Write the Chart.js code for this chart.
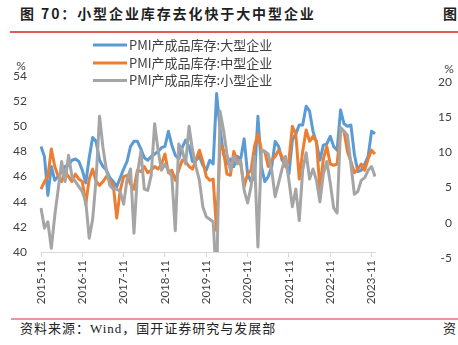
<!DOCTYPE html>
<html>
<head>
<meta charset="utf-8">
<script src="https://cdn.jsdelivr.net/npm/chart.js@4.4.0/dist/chart.umd.min.js"></script>
<style>
  body { margin:0; width:458px; height:345px; background:#fff; position:relative; overflow:hidden; font-family:"Noto Sans CJK SC", sans-serif; }
  .head { position:absolute; top:3px; line-height:20px; font-size:14px; font-weight:bold; letter-spacing:1.9px; color:#1f1f1f; white-space:nowrap; }
  .rule { position:absolute; left:10px; right:0; }
  .foot { position:absolute; top:320px; line-height:18px; font-size:13px; letter-spacing:1px; color:#222; white-space:nowrap; font-family:"Liberation Serif","Noto Sans CJK SC",serif; }
  #box { position:absolute; left:0; top:0; width:458px; height:310px; }
</style>
</head>
<body>
<div class="head" style="left:20px">图 70：小型企业库存去化快于大中型企业</div>
<div class="head" style="left:443px">图</div>
<div class="rule" style="top:31px;height:1.5px;background:#e05a5a"></div>
<div id="box"><canvas id="chart"></canvas></div>
<div class="rule" style="top:318px;height:2px;background:#e49a9a;left:11px"></div>
<div class="foot" style="left:20px">资料来源：Wind，国开证券研究与发展部</div>
<div class="foot" style="left:443px">资</div>
<script>
// monthly, 2015-11 .. 2023-12
var months = []
for (var y = 2015, m = 11; months.length < 98; ) {
    months.push(y + '-' + (m < 10 ? '0' + m : m))
    m++
    if (m > 12) { m = 1; y++ }
}

var seriesNames = ['PMI产成品库存:大型企业', 'PMI产成品库存:中型企业', 'PMI产成品库存:小型企业']

var large = [48.4, 47.6, 44.5, 46.8, 45.7, 46.0, 46.4, 46.8, 46.9, 47.3, 47.4, 47.2,
    46.5, 45.5, 47.5, 49.1, 48.8, 47.3, 46.8, 46.5, 45.9, 45.6, 45.2, 45.9,
    46.6, 47.2, 48.4, 48.8, 48.8, 48.2, 47.5, 47.3, 47.6, 47.8, 48.0, 48.3,
    48.4, 49.6, 48.5, 47.7, 47.4, 48.3, 48.9, 48.4, 47.2, 47.3, 47.6, 46.9,
    46.5, 47.3, 47.0, 52.6, 49.8, 47.8, 47.0, 47.4, 46.8, 47.6, 47.4, 49.0,
    46.2, 45.6, 45.9, 50.8, 46.8, 45.6, 46.0, 46.8, 48.8, 48.4, 47.3, 47.0,
    46.2, 48.9, 49.4, 50.1, 50.1, 51.6, 51.2, 49.6, 48.7, 47.3, 48.5, 48.6,
    49.2, 48.4, 48.1, 51.3, 50.2, 50.0, 50.1, 47.8, 46.4, 46.5, 47.0, 47.6,
    49.6, 49.4]

var medium = [45.0, 45.6, 46.0, 48.2, 46.8, 46.0, 45.6, 46.4, 46.0, 45.6, 46.2, 45.8,
    45.6, 43.8, 45.8, 46.6, 45.6, 45.3, 45.6, 46.0, 45.7, 45.3, 42.7, 44.9,
    46.0, 46.1, 45.4, 45.0, 46.5, 46.4, 46.8, 46.3, 46.5, 46.8, 46.6, 47.0,
    47.8, 46.3, 46.5, 45.7, 46.5, 47.3, 47.2, 46.8, 46.6, 47.3, 48.1, 47.2,
    46.0, 45.7, 45.8, 41.7, 48.6, 48.1, 46.2, 46.1, 48.0, 47.3, 47.0, 45.2,
    46.2, 46.5, 48.4, 49.4, 48.1, 48.0, 46.8, 47.3, 47.6, 48.1, 47.6, 46.8,
    47.3, 50.0, 49.4, 45.8, 48.0, 49.7, 48.8, 49.2, 48.8, 45.0, 47.4, 48.4,
    47.0, 46.9, 47.0, 49.7, 49.6, 48.0, 47.2, 46.3, 46.6, 47.0, 46.5, 47.4,
    48.1, 47.8]

var small = [43.5, 41.9, 42.4, 40.3, 42.9, 45.0, 47.2, 45.6, 47.7, 46.0, 45.6, 45.2,
    44.8, 44.0, 41.1, 42.6, 45.8, 50.8, 48.3, 46.5, 45.3, 45.0, 45.0, 44.8,
    43.8, 45.8, 46.6, 41.5, 46.2, 48.0, 45.0, 44.9, 46.1, 50.2, 48.1, 46.5,
    47.0, 46.5, 46.0, 41.7, 48.6, 48.1, 47.0, 50.0, 48.1, 46.8, 45.7, 43.6,
    42.8, 42.6, 42.4, 37.5, 51.2, 49.7, 47.8, 46.5, 47.6, 47.0, 47.3, 44.9,
    43.9, 45.2, 47.6, 40.4, 48.1, 48.0, 47.8, 46.5, 44.4, 45.5, 46.6, 47.6,
    45.7, 43.6, 45.0, 42.5, 46.5, 47.9, 45.8, 46.6, 45.7, 44.0, 46.2, 47.2,
    45.5, 43.5, 43.1, 49.9, 49.6, 49.3, 47.0, 44.6, 44.8, 45.7, 45.9, 46.5,
    46.8, 46.0]

var leftTicks = { min: 40, max: 54, step: 2 }
var rightTicks = { min: -5, max: 20, step: 5 }

var textColor = '#404040'

// legend rows and the two "%" unit marks
var extras = {
    id: 'extras',
    afterDraw: function (chart) {
        var ctx = chart.ctx
        var rows = [45, 63, 80.5]
        ctx.save()
        ctx.textBaseline = 'middle'
        ctx.font = '13px "Noto Sans CJK SC"'
        chart.data.datasets.forEach(function (ds, i) {
            ctx.strokeStyle = ds.borderColor
            ctx.lineWidth = 3
            ctx.beginPath()
            ctx.moveTo(93, rows[i])
            ctx.lineTo(127, rows[i])
            ctx.stroke()
            ctx.fillStyle = textColor
            ctx.fillText(ds.label, 129, rows[i])
        })
        ctx.font = '12px Lato'
        ctx.textAlign = 'center'
        ctx.fillText('%', 21, 66)
        ctx.fillText('%', 449, 69)
        ctx.restore()
    }
}

var ctx = document.getElementById('chart').getContext('2d')
var chart = new Chart(ctx, {
    type: 'line',
    data: {
        labels: months,
        datasets: [
            { label: seriesNames[0], data: large, borderColor: '#5b9bd5', order: 3 },
            { label: seriesNames[1], data: medium, borderColor: '#ed7d31', order: 2 },
            { label: seriesNames[2], data: small, borderColor: '#a5a5a5', order: 1 }
        ]
    },
    options: {
        responsive: true,
        maintainAspectRatio: false,
        animation: false,
        layout: { padding: { top: 76, right: 6, bottom: 0, left: 0 } },
        elements: {
            line: { borderWidth: 3, tension: 0, fill: false, borderJoinStyle: 'round' },
            point: { radius: 0, hoverRadius: 0 }
        },
        plugins: { legend: { display: false }, tooltip: { enabled: false } },
        scales: {
            x: {
                offset: false,
                grid: {
                    drawOnChartArea: false, drawTicks: true, tickLength: 5,
                    color: function (c) { return c.index % 12 === 0 ? '#d9d9d9' : 'rgba(0,0,0,0)' }
                },
                border: { color: '#d9d9d9', width: 1 },
                ticks: {
                    autoSkip: false, minRotation: 90, maxRotation: 90, padding: 3,
                    font: { family: 'Lato', size: 11.5 }, color: textColor,
                    callback: function (v, i) { return i % 12 === 0 ? months[i] : '' }
                },
                afterFit: function (s) { s.height = 58 }
            },
            y: {
                position: 'left',
                min: leftTicks.min, max: leftTicks.max,
                grid: { display: false, drawTicks: false },
                border: { display: false },
                ticks: { stepSize: leftTicks.step, padding: 14, font: { family: 'Lato', size: 12 }, color: textColor },
                afterFit: function (s) { s.width = 41 }
            },
            y2: {
                position: 'right',
                min: rightTicks.min, max: rightTicks.max,
                grid: { display: false, drawTicks: false },
                border: { display: false },
                ticks: { stepSize: rightTicks.step, padding: 63, crossAlign: 'far', labelOffset: 6, font: { family: 'Lato', size: 12 }, color: textColor },
                // big label padding must not push the plot bottom up
                afterFit: function (s) { s.width = 77; s.paddingTop = 8; s.paddingBottom = 8 }
            }
        }
    },
    plugins: [extras]
})
</script>
</body>
</html>
